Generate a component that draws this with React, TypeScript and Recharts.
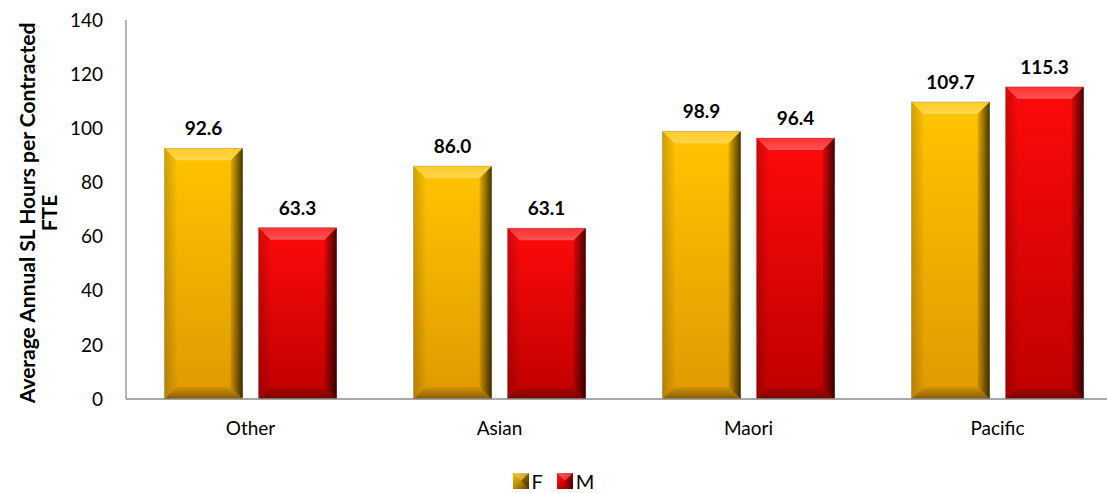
import React from 'react';
import { BarChart, Bar, XAxis, YAxis, Legend, LabelList } from 'recharts';

const categories = ['Other', 'Asian', 'Maori', 'Pacific'];
const femaleValues = [92.6, 86.0, 98.9, 109.7];
const maleValues = [63.3, 63.1, 96.4, 115.3];
const yTicks = [0, 20, 40, 60, 80, 100, 120, 140];

const chartData = categories.map((name, i) => ({
  name,
  F: femaleValues[i],
  M: maleValues[i],
}));

const FONT = 'Lato, "Open Sans", sans-serif';

// bar with an Excel-style bevel
function BevelBar(props: any) {
  const { x, y, width, height, gradId } = props;
  if (!height || height <= 0) return null;
  const w = width;
  const h = height;
  const b = Math.min(12, w / 2, h / 2);
  return (
    <g>
      <rect x={x} y={y} width={w} height={h} fill={`url(#${gradId})`} stroke="rgba(0,0,0,0.25)" strokeWidth={0.8} />
      <polygon
        points={`${x},${y} ${x + w},${y} ${x + w - b},${y + b} ${x + b},${y + b}`}
        fill="url(#topShade)"
      />
      <polygon
        points={`${x},${y} ${x + b},${y + b} ${x + b},${y + h - b} ${x},${y + h}`}
        fill="url(#leftShade)"
      />
      <polygon
        points={`${x + w},${y} ${x + w},${y + h} ${x + w - b},${y + h - b} ${x + w - b},${y + b}`}
        fill="url(#rightShade)"
      />
      <polygon
        points={`${x},${y + h} ${x + w},${y + h} ${x + w - b},${y + h - b} ${x + b},${y + h - b}`}
        fill="url(#bottomShade)"
      />
    </g>
  );
}

function YTitle() {
  const cy = 213;
  return (
    <text
      transform={`translate(0, ${cy}) rotate(-90)`}
      textAnchor="middle"
      fontFamily={FONT}
      fontWeight="bold"
      fontSize={21}
      fill="#000"
    >
      <tspan x={0} y={35}>Average Annual SL Hours per Contracted</tspan>
      <tspan x={0} y={57}>FTE</tspan>
    </text>
  );
}

function LegendIcon({ gradId }: { gradId: string }) {
  const gold = gradId === 'goldGrad';
  return (
    <svg width={16} height={16} style={{ verticalAlign: 'middle' }}>
      <defs>
        <linearGradient id={`lg-${gradId}`} x1="0" y1="0" x2="1" y2="1">
          <stop offset="0%" stopColor={gold ? '#f5c000' : '#ff2020'} />
          <stop offset="50%" stopColor={gold ? '#c08a00' : '#d00000'} />
          <stop offset="100%" stopColor={gold ? '#5a4000' : '#600000'} />
        </linearGradient>
      </defs>
      <rect x={0} y={0} width={16} height={16} fill={`url(#lg-${gradId})`} />
      <polygon points="0,0 16,0 8,8" fill="rgba(255,255,255,0.25)" />
      <polygon points="16,0 16,16 8,8" fill="rgba(0,0,0,0.3)" />
    </svg>
  );
}

function LegendContent() {
  return (
    <div style={{ display: 'flex', justifyContent: 'center', alignItems: 'center', fontFamily: FONT, fontSize: 20, color: '#000' }}>
      <span style={{ display: 'inline-flex', alignItems: 'center', marginRight: 14 }}>
        <LegendIcon gradId="goldGrad" />
        <span style={{ marginLeft: 3 }}>F</span>
      </span>
      <span style={{ display: 'inline-flex', alignItems: 'center' }}>
        <LegendIcon gradId="redGrad" />
        <span style={{ marginLeft: 3 }}>M</span>
      </span>
    </div>
  );
}

const labelStyle = { fontFamily: FONT, fontWeight: 'bold', fontSize: 19, fill: '#000' };

export default function App() {
  return (
    <div style={{ position: 'absolute', left: 0, top: 0, width: 1107, height: 493, overflow: 'hidden', background: '#fff' }}>
      <BarChart
        width={1130}
        height={493}
        data={chartData}
        margin={{ top: 20, right: 8, left: 0, bottom: 14 }}
        barCategoryGap="15.5%"
        barGap={16}
      >
        <defs>
          <linearGradient id="goldGrad" x1="0" y1="0" x2="0" y2="1">
            <stop offset="0%" stopColor="#ffc400" />
            <stop offset="100%" stopColor="#df9a00" />
          </linearGradient>
          <linearGradient id="redGrad" x1="0" y1="0" x2="0" y2="1">
            <stop offset="0%" stopColor="#ff0a0a" />
            <stop offset="100%" stopColor="#bf0000" />
          </linearGradient>
          <linearGradient id="topShade" x1="0" y1="0" x2="0" y2="1">
            <stop offset="0%" stopColor="rgba(255,255,255,0.15)" />
            <stop offset="100%" stopColor="rgba(255,255,255,0.3)" />
          </linearGradient>
          <linearGradient id="leftShade" x1="0" y1="0" x2="1" y2="0">
            <stop offset="0%" stopColor="rgba(0,0,0,0.18)" />
            <stop offset="100%" stopColor="rgba(0,0,0,0.02)" />
          </linearGradient>
          <linearGradient id="rightShade" x1="0" y1="0" x2="1" y2="0">
            <stop offset="0%" stopColor="rgba(0,0,0,0.1)" />
            <stop offset="100%" stopColor="rgba(0,0,0,0.72)" />
          </linearGradient>
          <linearGradient id="bottomShade" x1="0" y1="0" x2="0" y2="1">
            <stop offset="0%" stopColor="rgba(0,0,0,0.05)" />
            <stop offset="100%" stopColor="rgba(0,0,0,0.4)" />
          </linearGradient>
        </defs>
        <XAxis
          dataKey="name"
          height={50}
          axisLine={{ stroke: '#8c8c8c', strokeWidth: 1.3 }}
          tickLine={false}
          tickMargin={17}
          tick={{ fontFamily: FONT, fontSize: 19, fill: '#000' }}
        />
        <YAxis
          width={126}
          domain={[0, 140]}
          ticks={yTicks}
          interval={0}
          axisLine={{ stroke: '#8c8c8c', strokeWidth: 1.3 }}
          tickLine={false}
          tickSize={0}
          tickMargin={23}
          tick={{ fontFamily: FONT, fontSize: 19, fill: '#000' }}
          label={<YTitle />}
        />
        <Legend verticalAlign="bottom" height={30} content={<LegendContent />} wrapperStyle={{ left: 0, width: 1107, top: 469 }} />
        <Bar dataKey="F" isAnimationActive={false} shape={(p: any) => <BevelBar {...p} gradId="goldGrad" />}>
          <LabelList
            dataKey="F"
            position="top"
            offset={13}
            formatter={(v: any) => Number(v).toFixed(1)}
            style={labelStyle}
          />
        </Bar>
        <Bar dataKey="M" isAnimationActive={false} shape={(p: any) => <BevelBar {...p} gradId="redGrad" />}>
          <LabelList
            dataKey="M"
            position="top"
            offset={13}
            formatter={(v: any) => Number(v).toFixed(1)}
            style={labelStyle}
          />
        </Bar>
      </BarChart>
    </div>
  );
}
